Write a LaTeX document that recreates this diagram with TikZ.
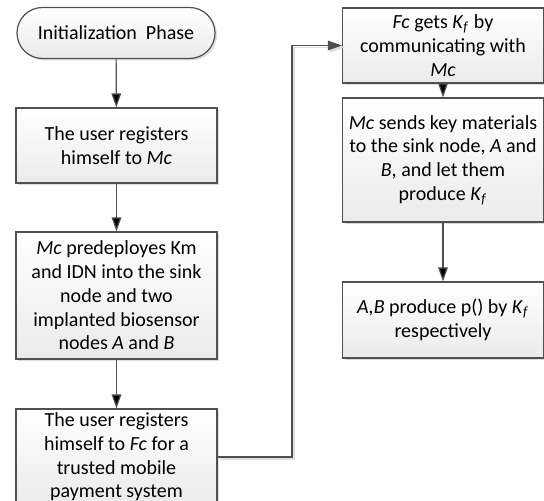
\documentclass[tikz,border=0pt]{standalone}
\usepackage{fontspec}
\setmainfont{Carlito}
\usepackage{tikz}
\usetikzlibrary{arrows.meta,positioning,shapes.misc,shadows}

\definecolor{edgegray}{HTML}{505050}
\newcommand{\Kf}{\textit{K}\textsubscript{\textit{f}}}

\begin{document}
\begin{tikzpicture}[->,>={Triangle[length=7pt,width=4.8pt]},thick,x=0.5pt,y=-0.5pt,
	every node/.style={font=\fontsize{10}{11.85}\selectfont},
	base/.style={draw=edgegray,line width=0.6pt,top color=white,bottom color=gray!16,
		drop shadow={shadow xshift=1pt,shadow yshift=-1pt,fill=gray!45,opacity=0.6},
		align=center,inner sep=1pt},
	phase/.style={base,rounded rectangle,minimum width=101pt,minimum height=25.5pt},
	stepbox/.style={base,rectangle,minimum width=100.5pt},
	wire/.style={->,draw=edgegray,line width=0.6pt,
		preaction={draw=gray!25,transform canvas={xshift=1pt,yshift=-1pt}}}]
	\useasboundingbox (0,0) rectangle (544,501);

	\node [phase] at (116,33) (init) {Initialization\ \ Phase};
	\node [stepbox,minimum height=37.5pt] at (116.5,145.5) (reg) {The user registers\\himself to \textit{Mc}};
	\node [stepbox,minimum height=63.5pt] at (116.5,295.5) (pre) {\textit{Mc} predeployes Km\\and IDN into the sink\\node and two\\implanted biosensor\\nodes \textit{A} and \textit{B}};
	\node [stepbox,minimum height=48pt] at (116.5,457) (pay) {The user registers\\himself to \textit{Fc} for a\\trusted mobile\\payment system};
	\node [stepbox,minimum height=37.5pt] at (443,45.5) (get) {\textit{Fc} gets \Kf{} by\\communicating with\\\textit{Mc}};
	\node [stepbox,minimum height=62pt] at (443,160) (send) {\textit{Mc} sends key materials\\to the sink node, \textit{A} and\\\textit{B}, and let them\\produce \Kf};
	\node [stepbox,minimum height=38pt] at (443,320) (prod) {\textit{A,B} produce p() by \Kf\\respectively};
	\coordinate (bend) at (292,457);

	\path[wire]
	(init) edge (reg)
	(reg) edge (pre)
	(pre) edge (pay)
	(get) edge (send)
	(send) edge (prod);
	\draw[wire] (pay.east) -- (bend) |- (get.west);
\end{tikzpicture}
\end{document}
